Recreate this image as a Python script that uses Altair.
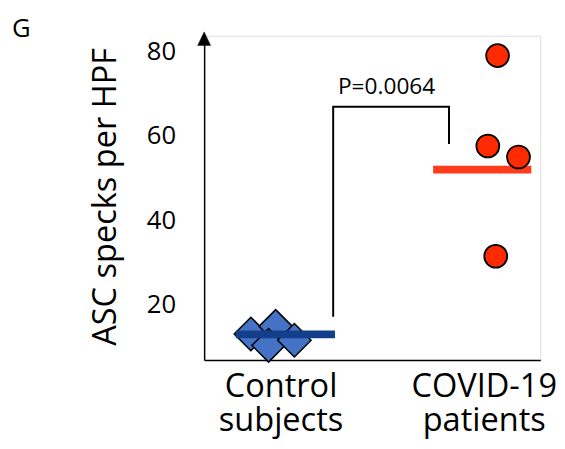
import altair as alt
import pandas as pd

# ---- data ----
groups = ["Control subjects", "COVID-19 patients"]
group_pos = [1, 2]

control_offsets = [-0.146, -0.024, -0.059, 0.068]
control_values = [13.1, 14.9, 10.4, 11.6]

covid_offsets = [0.068, 0.020, 0.171, 0.059]
covid_values = [79.0, 57.6, 55.0, 31.5]

mean_values = [13.0, 52.0]
mean_x_start = [-0.22, -0.249]
mean_x_end = [0.268, 0.234]
mean_colors = ["#123e8a", "#ff3b1c"]

bracket_x = [1.259, 1.259, 1.829, 1.829]
bracket_y = [17.2, 66.9, 66.9, 58.1]
p_label = "P=0.0064"
p_x = 1.522
p_y = 71.6

y_ticks = [20, 40, 60, 80]
y_domain = [6.93, 83.7]
x_domain = [0.624, 2.278]

FONT = "Open Sans"

ctrl = pd.DataFrame({"x": [group_pos[0] + o for o in control_offsets], "y": control_values})
cov = pd.DataFrame({"x": [group_pos[1] + o for o in covid_offsets], "y": covid_values})
means = pd.DataFrame({
    "x": [g + s for g, s in zip(group_pos, mean_x_start)],
    "x2": [g + e for g, e in zip(group_pos, mean_x_end)],
    "y": mean_values,
    "c": mean_colors,
})
bracket = pd.DataFrame({"x": bracket_x, "y": bracket_y, "o": list(range(len(bracket_x)))})
ptext = pd.DataFrame({"x": [p_x], "y": [p_y], "t": [p_label]})

xs = alt.Scale(domain=x_domain, nice=False, zero=False)
ys = alt.Scale(domain=y_domain, nice=False, zero=False)

label_expr = "datum.value == 1 ? ['Control', 'subjects'] : ['COVID-19', 'patients']"

xaxis = alt.Axis(values=group_pos, labelExpr=label_expr, ticks=False, grid=False,
                 domainColor="black", domainWidth=1.5, labelFontSize=33, labelFont=FONT,
                 labelColor="black", labelPadding=11, labelLineHeight=34, title=None,
                 labelBaseline="top")
yaxis = alt.Axis(values=y_ticks, ticks=False, grid=False, domainColor="black", domainWidth=1.5,
                 labelFontSize=26, labelFont=FONT, labelColor="black", labelPadding=29,
                 title="ASC specks per HPF", titleFontSize=33, titleFont=FONT,
                 titleFontWeight="normal", titleColor="black", titleAngle=-90,
                 titleX=-100, titleY=163, titleAlign="center", titleBaseline="middle")

base_x = alt.X("x:Q", scale=xs, axis=xaxis)
base_y = alt.Y("y:Q", scale=ys, axis=yaxis)

red_rule = alt.Chart(means.iloc[[1]]).mark_rule(strokeWidth=8, color=mean_colors[1]).encode(
    x=base_x, x2="x2:Q", y=base_y)
blue_rule = alt.Chart(means.iloc[[0]]).mark_rule(strokeWidth=8, color=mean_colors[0]).encode(
    x=base_x, x2="x2:Q", y=base_y)

circles = alt.Chart(cov).mark_point(shape="circle", filled=True, fill="#ff2a00", stroke="black",
                                    strokeWidth=1.8, size=540, opacity=1).encode(x=base_x, y=base_y)
diamonds = alt.Chart(ctrl).mark_point(shape="diamond", filled=True, fill="#4472c4", stroke="black",
                                      strokeWidth=1.5, size=1150, opacity=1).encode(x=base_x, y=base_y)

bracket_line = alt.Chart(bracket).mark_line(color="black", strokeWidth=2).encode(
    x=base_x, y=base_y, order="o:Q")

ptxt = alt.Chart(ptext).mark_text(font=FONT, fontSize=23, color="black", baseline="middle",
                                  align="center").encode(x=base_x, y=base_y, text="t:N")

arrow = alt.Chart(pd.DataFrame({"y": [y_domain[1]]})).mark_point(
    shape="M0,-0.3 L-0.5,0.75 L0.5,0.75 Z", filled=True, fill="black", stroke="black", strokeWidth=0.5,
    size=680, opacity=1
).encode(x=alt.value(0), y=base_y)

glabel = alt.Chart(pd.DataFrame({"t": ["G"]})).mark_text(
    font=FONT, fontSize=26, color="black", align="left", baseline="top"
).encode(x=alt.value(-195), y=alt.value(-20), text="t:N")

chart = alt.layer(red_rule, circles, diamonds, blue_rule, bracket_line, ptxt, arrow, glabel).properties(
    width=341, height=329,
    padding={"left": 199, "top": 25, "right": 17, "bottom": 79},
    autosize=alt.AutoSizeParams(type="none"),
).configure_view(stroke=None).configure(background="white")

chart.save("out.html", embed_options={"renderer": "svg", "actions": False})
